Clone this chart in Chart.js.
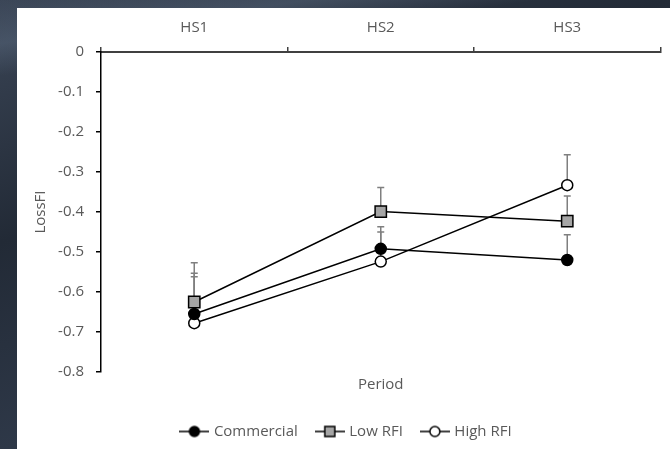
<!DOCTYPE html>
<html>
<head>
<meta charset="utf-8">
<script src="https://cdn.jsdelivr.net/npm/chart.js@4/dist/chart.umd.min.js"></script>
<style>
  html, body { margin: 0; padding: 0; width: 670px; height: 449px; overflow: hidden; }
  body {
    background:
      linear-gradient(172deg, rgba(120,140,165,0.0) 0%, rgba(120,140,165,0.25) 8%, rgba(120,140,165,0.0) 14%),
      linear-gradient(160deg, #3b4657 0%, #222a36 35%, #2e3848 65%, #1c222c 100%);
  }
  #panel { position: absolute; left: 17px; top: 8px; width: 653px; height: 441px; background: #fff; }
  canvas { display: block; }
</style>
</head>
<body>
<div id="panel"><canvas id="chart" width="653" height="441"></canvas></div>
<script>
// Heat-stress periods and mean LossFI per line (upper standard error in *SE arrays)
const periods = ['HS1', 'HS2', 'HS3'];
const commercial = [-0.655, -0.492, -0.520];
const lowRFI = [-0.625, -0.399, -0.423];
const highRFI = [-0.678, -0.524, -0.333];
const commercialSE = [0.102, 0.055, 0.063];
const lowRFISE = [0.098, 0.060, 0.063];
const highRFISE = [0.116, 0.074, 0.076];
const yMin = -0.8, yMax = 0, yStep = 0.1;

const TEXT = '#595959';
Chart.defaults.font.family = "'Open Sans', sans-serif";
Chart.defaults.font.size = 15;
Chart.defaults.color = TEXT;

// Small "line through marker" swatch used in the legend
function legendSymbol(ds) {
  const c = document.createElement('canvas');
  c.width = 30; c.height = 14;
  const g = c.getContext('2d');
  g.strokeStyle = '#000'; g.lineWidth = 1.5;
  g.beginPath(); g.moveTo(0, 7); g.lineTo(30, 7); g.stroke();
  g.fillStyle = ds.pointBackgroundColor;
  g.beginPath();
  if (ds.pointStyle === 'rect') g.rect(10, 2, 10, 10);
  else g.arc(15, 7, 5, 0, Math.PI * 2);
  g.fill(); g.stroke();
  return c;
}

// Upper error bars, drawn beneath the markers
const errorBars = {
  id: 'errorBars',
  beforeDatasetsDraw(chart) {
    const { ctx, scales: { y } } = chart;
    ctx.save();
    ctx.strokeStyle = '#7f7f7f';
    ctx.lineWidth = 1.5;
    chart.data.datasets.forEach((ds, i) => {
      const meta = chart.getDatasetMeta(i);
      ds.data.forEach((v, j) => {
        const px = meta.data[j].x;
        const y0 = y.getPixelForValue(v);
        const y1 = y.getPixelForValue(v + ds.errorPlus[j]);
        ctx.beginPath();
        ctx.moveTo(px, y0); ctx.lineTo(px, y1);
        ctx.moveTo(px - 3.5, y1); ctx.lineTo(px + 3.5, y1);
        ctx.stroke();
      });
    });
    ctx.restore();
  }
};

const common = { borderColor: '#000', borderWidth: 1.5, pointBorderColor: '#000',
  pointBorderWidth: 1.5, tension: 0, fill: false };

new Chart(document.getElementById('chart'), {
  type: 'line',
  data: {
    labels: periods,
    datasets: [
      { ...common, label: 'Commercial', data: commercial, errorPlus: commercialSE,
        pointStyle: 'circle', pointRadius: 5.5, pointBackgroundColor: '#000' },
      { ...common, label: 'Low RFI', data: lowRFI, errorPlus: lowRFISE,
        pointStyle: 'rect', pointRadius: 8, pointBackgroundColor: '#a5a5a5' },
      { ...common, label: 'High RFI', data: highRFI, errorPlus: highRFISE,
        pointStyle: 'circle', pointRadius: 5.5, pointBackgroundColor: '#fff' }
    ]
  },
  options: {
    responsive: false,
    animation: false,
    devicePixelRatio: 1,
    layout: { padding: { left: 15, right: 8, top: 0, bottom: 0 } },
    scales: {
      x: {
        type: 'category',
        position: 'top',
        offset: true,
        grid: { offset: true, drawOnChartArea: false, drawTicks: true, tickLength: 5,
                color: '#404040', lineWidth: 1.5 },
        border: { color: '#404040', width: 2 },
        ticks: { padding: 10, color: TEXT },
        afterFit(s) { s.height = 44; }
      },
      x2: {
        type: 'category',
        position: 'bottom',
        labels: periods,
        grid: { display: false },
        border: { display: false },
        ticks: { display: false },
        title: { display: true, text: 'Period', color: TEXT, padding: { top: 0, bottom: 10 } },
        afterFit(s) { s.height = 32; }
      },
      y: {
        min: yMin, max: yMax,
        ticks: { stepSize: yStep, padding: 12, color: TEXT,
                 callback: v => (Math.abs(v) < 1e-9 ? '0' : v.toFixed(1)) },
        grid: { drawOnChartArea: false, drawTicks: true, tickLength: 5, color: '#000', lineWidth: 1.5 },
        border: { color: '#000', width: 1.5 },
        title: { display: true, text: 'LossFI', color: TEXT, padding: { top: 0, bottom: 0 } },
        afterFit(s) { s.width = 69; }
      }
    },
    plugins: {
      legend: {
        position: 'bottom',
        labels: {
          usePointStyle: true,
          pointStyleWidth: 24,
          padding: 20,
          color: TEXT,
          generateLabels(chart) {
            return chart.data.datasets.map((ds, i) => ({
              text: ds.label, datasetIndex: i, pointStyle: legendSymbol(ds),
              fontColor: TEXT, lineWidth: 0, strokeStyle: 'transparent', fillStyle: 'transparent'
            }));
          }
        }
      },
      tooltip: { enabled: false }
    }
  },
  plugins: [errorBars]
});
</script>
</body>
</html>
